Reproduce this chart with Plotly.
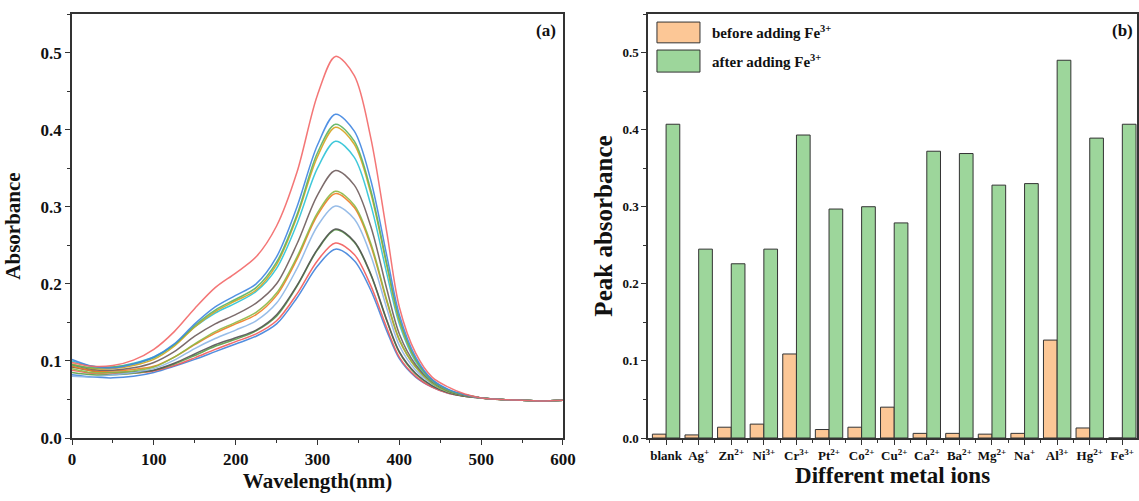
import plotly.graph_objects as go

# ---------------- Panel (a): absorption spectra ----------------
wavelength = [0, 25, 50, 75, 100, 125, 150, 175, 200, 225, 250, 275, 300, 322,
              345, 365, 385, 400, 420, 440, 460, 480, 500, 525, 550, 575, 600]

curve_red_top = [0.098,0.093,0.094,0.101,0.115,0.138,0.168,0.195,0.214,0.235,0.275,0.345,0.445,0.495,0.470,0.390,0.265,0.170,0.110,0.079,0.066,0.057,0.052,0.050,0.049,0.048,0.049]
curve_blue_top = [0.102,0.093,0.091,0.096,0.105,0.122,0.148,0.170,0.185,0.200,0.235,0.300,0.380,0.420,0.398,0.335,0.235,0.160,0.105,0.076,0.063,0.056,0.052,0.050,0.049,0.048,0.049]
curve_green = [0.095,0.091,0.092,0.096,0.104,0.121,0.146,0.166,0.180,0.195,0.228,0.290,0.370,0.407,0.385,0.322,0.225,0.155,0.102,0.075,0.062,0.056,0.052,0.050,0.049,0.048,0.049]
curve_gold = [0.096,0.090,0.090,0.094,0.102,0.119,0.144,0.164,0.178,0.192,0.225,0.287,0.365,0.403,0.381,0.318,0.222,0.152,0.101,0.075,0.062,0.056,0.052,0.050,0.049,0.048,0.049]
curve_cyan = [0.100,0.093,0.092,0.097,0.105,0.121,0.144,0.162,0.175,0.190,0.220,0.278,0.350,0.385,0.364,0.303,0.212,0.148,0.099,0.074,0.062,0.056,0.052,0.050,0.049,0.048,0.049]
curve_brown = [0.095,0.089,0.088,0.091,0.098,0.112,0.132,0.148,0.160,0.175,0.200,0.252,0.315,0.347,0.328,0.275,0.192,0.135,0.095,0.073,0.061,0.055,0.052,0.050,0.049,0.048,0.049]
curve_olive = [0.090,0.085,0.085,0.087,0.092,0.105,0.122,0.138,0.150,0.163,0.188,0.235,0.292,0.320,0.302,0.253,0.178,0.128,0.092,0.071,0.060,0.055,0.052,0.050,0.049,0.048,0.049]
curve_orange = [0.093,0.087,0.087,0.089,0.093,0.105,0.121,0.136,0.148,0.160,0.185,0.232,0.289,0.317,0.299,0.250,0.176,0.127,0.092,0.072,0.061,0.055,0.052,0.050,0.049,0.048,0.049]
curve_lightblue = [0.080,0.079,0.082,0.085,0.090,0.101,0.116,0.129,0.140,0.152,0.175,0.220,0.275,0.301,0.284,0.237,0.167,0.120,0.088,0.070,0.060,0.055,0.052,0.050,0.049,0.048,0.049]
curve_darkgray = [0.092,0.087,0.085,0.086,0.088,0.097,0.109,0.121,0.130,0.140,0.160,0.198,0.245,0.271,0.255,0.213,0.152,0.112,0.084,0.068,0.059,0.054,0.052,0.050,0.049,0.048,0.049]
curve_darkgreen = [0.085,0.082,0.082,0.084,0.088,0.096,0.107,0.119,0.128,0.139,0.158,0.197,0.244,0.270,0.254,0.212,0.151,0.111,0.083,0.068,0.059,0.054,0.052,0.050,0.049,0.048,0.049]
curve_red_low = [0.088,0.084,0.083,0.084,0.087,0.094,0.104,0.115,0.125,0.135,0.152,0.187,0.230,0.253,0.238,0.198,0.142,0.105,0.080,0.066,0.058,0.054,0.052,0.050,0.049,0.048,0.049]
curve_blue_low = [0.082,0.079,0.078,0.080,0.085,0.093,0.102,0.112,0.122,0.132,0.148,0.182,0.223,0.245,0.230,0.192,0.138,0.103,0.079,0.066,0.058,0.054,0.052,0.050,0.049,0.048,0.049]

curves = [
    (curve_blue_low, "#3f82dc"),
    (curve_red_low, "#f25a5a"),
    (curve_darkgreen, "#5a9e46"),
    (curve_darkgray, "#555555"),
    (curve_lightblue, "#8db6e6"),
    (curve_orange, "#f07d22"),
    (curve_olive, "#8cb944"),
    (curve_brown, "#6e5c5c"),
    (curve_cyan, "#2cc3d6"),
    (curve_gold, "#d6a41e"),
    (curve_green, "#5cb460"),
    (curve_blue_top, "#3f86e2"),
    (curve_red_top, "#f36868"),
]

# ---------------- Panel (b): peak absorbance bars ----------------
ion_labels = ["blank", "Ag<sup>+</sup>", "Zn<sup>2+</sup>", "Ni<sup>3+</sup>", "Cr<sup>3+</sup>",
              "Pt<sup>2+</sup>", "Co<sup>2+</sup>", "Cu<sup>2+</sup>", "Ca<sup>2+</sup>", "Ba<sup>2+</sup>",
              "Mg<sup>2+</sup>", "Na<sup>+</sup>", "Al<sup>3+</sup>", "Hg<sup>2+</sup>", "Fe<sup>3+</sup>"]
before_adding = [0.005, 0.004, 0.014, 0.018, 0.109, 0.011, 0.014, 0.040, 0.006, 0.006,
                 0.005, 0.006, 0.127, 0.013, 0.0]
after_adding = [0.407, 0.245, 0.226, 0.245, 0.393, 0.297, 0.300, 0.279, 0.372, 0.369,
                0.328, 0.330, 0.490, 0.389, 0.407]
ion_pos = list(range(len(ion_labels)))

FONT = "Liberation Serif"
ORANGE = "#fcc796"
GREEN = "#9dd69b"
EDGE = "#333333"

fig = go.Figure()

for ys, col in curves:
    fig.add_trace(go.Scatter(x=wavelength, y=ys, mode="lines",
                             line=dict(color=col, width=1.5, shape="spline", smoothing=0.9),
                             opacity=0.9, showlegend=False, xaxis="x", yaxis="y"))

fig.add_trace(go.Bar(x=ion_pos, y=before_adding, name="before adding Fe<sup>3+</sup>",
                     marker=dict(color=ORANGE, line=dict(color=EDGE, width=1)),
                     showlegend=False, xaxis="x2", yaxis="y2"))
fig.add_trace(go.Bar(x=ion_pos, y=after_adding, name="after adding Fe<sup>3+</sup>",
                     marker=dict(color=GREEN, line=dict(color=EDGE, width=1)),
                     showlegend=False, xaxis="x2", yaxis="y2"))

axis_common = dict(showline=True, mirror=True, linecolor=EDGE, linewidth=1.5,
                   ticks="outside", tickcolor=EDGE, showgrid=False, zeroline=False,
                   automargin=False)

fig.update_layout(
    width=1139, height=501,
    margin=dict(l=72, r=2, t=14, b=63),
    plot_bgcolor="white", paper_bgcolor="white",
    barmode="group", bargap=0.16, bargroupgap=0.0,
    font=dict(family=FONT, color="#111111"),
    xaxis=dict(domain=[0, 0.461], range=[0, 600], tickvals=[0, 100, 200, 300, 400, 500, 600],
               ticklen=5, minor=dict(ticks="outside", dtick=50, ticklen=3, tickcolor=EDGE),
               tickfont=dict(size=17, weight="bold"),
               title=dict(text="Wavelength(nm)", font=dict(size=21, weight="bold"), standoff=3),
               **axis_common),
    yaxis=dict(domain=[0, 1], range=[0, 0.55], tickvals=[0, 0.1, 0.2, 0.3, 0.4, 0.5],
               ticktext=["0.0", "0.1", "0.2", "0.3", "0.4", "0.5"],
               ticklen=5, minor=dict(ticks="outside", dtick=0.05, ticklen=3, tickcolor=EDGE),
               tickfont=dict(size=17, weight="bold"),
               title=dict(text="Absorbance", font=dict(size=21, weight="bold"), standoff=14),
               **axis_common),
    xaxis2=dict(domain=[0.541, 1.0], range=[-0.55, 14.45], anchor="y2",
                tickvals=ion_pos, ticktext=ion_labels,
                ticklen=5, minor=dict(ticks="outside", dtick=0.5, tick0=0.5, ticklen=3, tickcolor=EDGE),
                tickfont=dict(size=13, weight="bold"),
                title=dict(text="Different metal ions", font=dict(size=23, weight="bold"), standoff=4),
                **axis_common),
    yaxis2=dict(domain=[0, 1], range=[0, 0.55], anchor="x2",
                tickvals=[0, 0.1, 0.2, 0.3, 0.4, 0.5],
                ticktext=["0.0", "0.1", "0.2", "0.3", "0.4", "0.5"],
                ticklen=5, minor=dict(ticks="outside", dtick=0.05, ticklen=3, tickcolor=EDGE),
                tickfont=dict(size=13, weight="bold"),
                title=dict(text="Peak absorbance", font=dict(size=25, weight="bold"), standoff=3),
                **axis_common),
)

# custom legend for panel (b)
legend_items = [("before adding Fe<sup>3+</sup>", ORANGE, 0.981, 0.932),
                ("after adding Fe<sup>3+</sup>", GREEN, 0.915, 0.863)]
for text, col, y1, y0 in legend_items:
    fig.add_shape(type="rect", xref="x2 domain", yref="y2 domain",
                  x0=0.018, x1=0.106, y0=y0, y1=y1,
                  fillcolor=col, line=dict(color=EDGE, width=1))
    fig.add_annotation(xref="x2 domain", yref="y2 domain", x=0.127, y=(y0 + y1) / 2,
                       text=text, showarrow=False, xanchor="left", yanchor="middle",
                       font=dict(size=15, weight="bold", family=FONT))

fig.add_annotation(xref="x domain", yref="y domain", x=0.99, y=0.962, text="(a)",
                   showarrow=False, xanchor="right", yanchor="middle",
                   font=dict(size=17, weight="bold", family=FONT))
fig.add_annotation(xref="x2 domain", yref="y2 domain", x=0.995, y=0.962, text="(b)",
                   showarrow=False, xanchor="right", yanchor="middle",
                   font=dict(size=17, weight="bold", family=FONT))

fig.write_html("out.html", config={"displayModeBar": False},
               post_script="document.body.style.margin='0';")
